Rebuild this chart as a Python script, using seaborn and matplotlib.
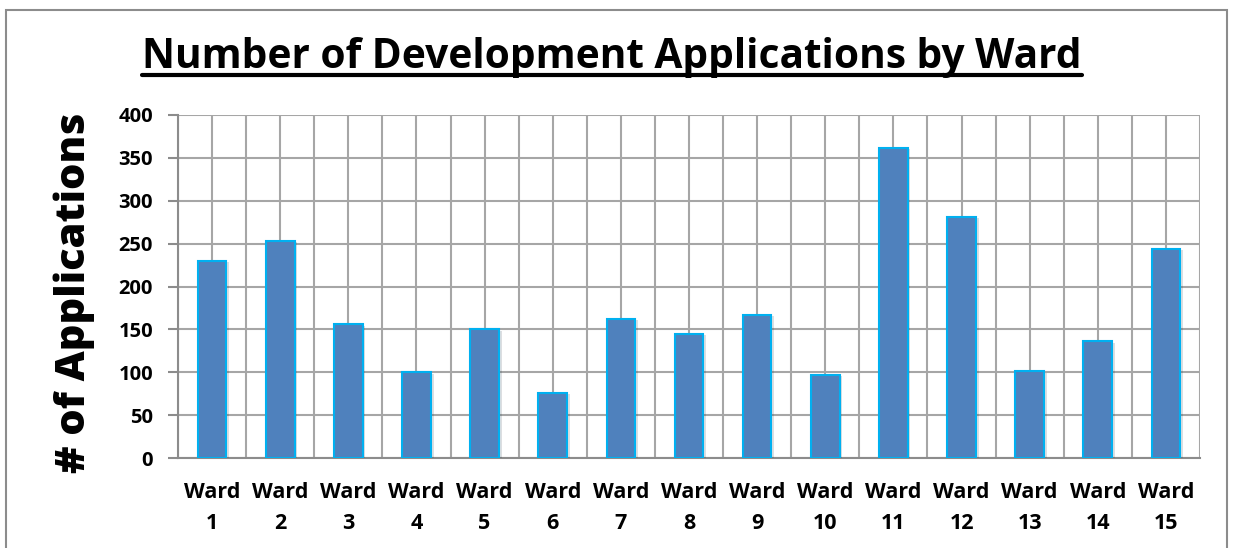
import matplotlib
matplotlib.use("Agg")
import matplotlib.pyplot as plt
import matplotlib.patheffects as pe
import seaborn as sns
import pandas as pd
import numpy as np
from matplotlib.patches import Rectangle
from matplotlib.lines import Line2D

# ---- data ----
wards = [f"Ward\n{i}" for i in range(1, 16)]
applications = [230, 253, 156, 100, 150, 76, 162, 145, 167, 97, 362, 281, 101, 136, 244]
y_ticks = [0, 50, 100, 150, 200, 250, 300, 350, 400]
title = "Number of Development Applications by Ward"
y_label = "# of Applications"

sns.set_theme(style="white")
plt.rcParams['font.family'] = ['Open Sans', 'DejaVu Sans']

W, H = 1233, 548
fig = plt.figure(figsize=(W / 100, H / 100), dpi=100)
fig.patch.set_facecolor("white")
ax = fig.add_axes([178 / W, 1 - 458 / H, (1200 - 178) / W, (458 - 115) / H])

df = pd.DataFrame({"ward": wards, "applications": applications})
sns.barplot(data=df, x="ward", y="applications", ax=ax, color="#4F81BD",
            saturation=1, width=0.42, edgecolor="#00B0F0", linewidth=1.5, zorder=3)
for p in ax.patches:
    p.set_path_effects([pe.SimplePatchShadow(offset=(2, -1), alpha=0.15), pe.Normal()])

grid_c = "#a6a6a6"
ax.set_ylim(0, 400)
ax.set_xlim(-0.5, 14.5)
ax.set_yticks(y_ticks)
ax.set_yticklabels([str(v) for v in y_ticks], fontsize=14.5, fontweight="bold", color="black")
ax.set_xticks(np.arange(15))
ax.set_xticklabels(wards, fontsize=15.5, fontweight="bold", color="black", linespacing=1.62)
ax.set_xticks(np.arange(-0.5, 15, 1), minor=True)
ax.tick_params(axis="x", which="major", length=0, pad=17)
ax.tick_params(axis="x", which="minor", length=6.5, width=1.5, color="#8c8c8c", direction="out")
ax.tick_params(axis="y", which="major", length=7, width=1.5, color="#8c8c8c", direction="out", pad=11, left=True)
ax.grid(True, which="both", axis="x", color=grid_c, lw=1.5, zorder=0)
ax.grid(True, which="major", axis="y", color=grid_c, lw=1.5, zorder=0)
ax.set_axisbelow(True)
for s in ["top", "right"]:
    ax.spines[s].set_visible(False)
for s in ["left", "bottom"]:
    ax.spines[s].set_color("#8c8c8c")
    ax.spines[s].set_linewidth(1.5)
ax.set_xlabel("")
ax.set_ylabel("")

fig.canvas.draw()
r = fig.canvas.get_renderer()

# y label fitted to its span in the reference
yl = fig.text(74 / W, 1 - 293 / H, y_label, rotation=90, ha="center", va="center",
              fontsize=30, fontweight="heavy", color="black")
h = yl.get_window_extent(r).height
yl.set_fontsize(30 * 360 / h)

# title fitted to its width in the reference
t = fig.text(612 / W, 1 - 57 / H, title, ha="center", va="center",
             fontsize=27, fontweight="bold", color="black")
w = t.get_window_extent(r).width
t.set_fontsize(27 * 939 / w)
fig.canvas.draw()
bb = t.get_window_extent(r)
uy = 1 - 75 / H
fig.add_artist(Line2D([bb.x0 / W, bb.x1 / W], [uy, uy], transform=fig.transFigure,
                      color="black", lw=3))

fig.add_artist(Rectangle((6 / W, -0.02), (1227 - 6) / W, (548 - 10) / H + 0.02,
                         transform=fig.transFigure, fill=False, edgecolor="#8c8c8c", lw=1.5))

fig.savefig("out.png", dpi=100, facecolor="white")
